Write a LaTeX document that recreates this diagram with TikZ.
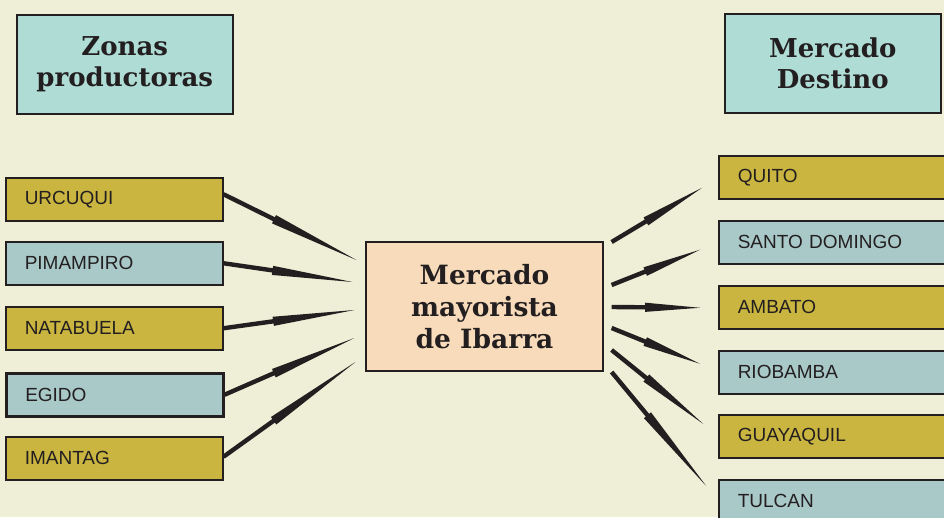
\documentclass[tikz,border=0pt]{standalone}
\usepackage{fontspec}
\setmainfont{DejaVu Serif}
\setsansfont{Liberation Sans}
\usetikzlibrary{calc}

\definecolor{fondo}{HTML}{EFEED6}
\definecolor{turquesa}{HTML}{AFDDD6}
\definecolor{oro}{HTML}{C9B540}
\definecolor{gris}{HTML}{A9C8C8}
\definecolor{durazno}{HTML}{F8DBBA}
\definecolor{tinta}{HTML}{231F20}

\tikzset{
  titulo/.style={draw=tinta, line width=1.5pt, fill=turquesa, minimum width=216pt,
    minimum height=99pt, anchor=north west, align=center, text=tinta,
    font=\bfseries\fontsize{26}{31}\selectfont},
  lugar/.style={draw=tinta, line width=1.5pt, minimum height=43pt, text width=179pt,
    inner xsep=19pt, anchor=north west, align=left, text=tinta,
    font=\sffamily\fontsize{19}{22}\selectfont},
  mayorista/.style={draw=tinta, line width=1.2pt, fill=durazno, minimum width=237pt,
    minimum height=129pt, align=center, text=tinta,
    font=\bfseries\fontsize{26.5}{32}\selectfont}
}

% spear-like arrow from #1 to #2
\newcommand\flecha[2]{%
  \coordinate (m) at ($(#1)!0.38!(#2)$);
  \fill[tinta] ($(#1)!2.2pt!90:(#2)$) -- ($(m)!2.2pt!90:(#2)$) -- ($(m)!4.6pt!90:(#2)$)
    -- (#2) -- ($(m)!4.6pt!-90:(#2)$) -- ($(m)!2.2pt!-90:(#2)$)
    -- ($(#1)!2.2pt!-90:(#2)$) -- cycle;}

\begin{document}
\begin{tikzpicture}[x=1pt, y=-1pt]
  \useasboundingbox (0,0) rectangle (944,517);
  \fill[fondo] (0,0) rectangle (944,517);

  % titles
  \node[titulo] (zonas) at (16,14) {Zonas\\productoras};
  \node[titulo] (destino) at (724,13) {Mercado\\Destino};

  % producing zones
  \node[lugar, fill=oro]  (urcuqui)   at (5,177) {URCUQUI};
  \node[lugar, fill=gris] (pimampiro) at (5,241) {PIMAMPIRO};
  \node[lugar, fill=oro]  (natabuela) at (5,306) {NATABUELA};
  \node[lugar, fill=gris, line width=2.5pt] (egido) at (5,372) {EGIDO};
  \node[lugar, fill=oro]  (imantag)   at (5,436) {IMANTAG};

  % wholesale market
  \node[mayorista] (mercado) at (484.5,306.5) {Mercado\\mayorista\\de Ibarra};

  % destinations
  \node[lugar, fill=oro, text width=212pt]  (quito)     at (718,155) {QUITO};
  \node[lugar, fill=gris, text width=212pt] (santo)     at (718,220) {SANTO DOMINGO};
  \node[lugar, fill=oro, text width=212pt]  (ambato)    at (718,285) {AMBATO};
  \node[lugar, fill=gris, text width=212pt] (riobamba)  at (718,350) {RIOBAMBA};
  \node[lugar, fill=oro, text width=212pt]  (guayaquil) at (718,414) {GUAYAQUIL};
  \node[lugar, fill=gris, text width=212pt] (tulcan)    at (718,479) {TULCAN};

  % arrows into the market
  \coordinate (u1) at ($(urcuqui.east)+(0,-5)$);
  \coordinate (u2) at ($(mercado.west)+(-9,-46.5)$);
  \coordinate (p1) at (pimampiro.east);
  \coordinate (p2) at ($(mercado.west)+(-13,-24.5)$);
  \coordinate (n1) at (natabuela.east);
  \coordinate (n2) at ($(mercado.west)+(-11,3.5)$);
  \coordinate (e1) at (egido.east);
  \coordinate (e2) at ($(mercado.west)+(-11,31.5)$);
  \coordinate (i1) at ($(imantag.east)+(0,-1.5)$);
  \coordinate (i2) at ($(mercado.west)+(-10,55.5)$);
  \flecha{u1}{u2}
  \flecha{p1}{p2}
  \flecha{n1}{n2}
  \flecha{e1}{e2}
  \flecha{i1}{i2}

  % arrows out of the market
  \coordinate (q1) at ($(mercado.east)+(8,-64.5)$);
  \coordinate (q2) at ($(quito.west)+(-16,10.5)$);
  \coordinate (s1) at ($(mercado.east)+(8,-21.5)$);
  \coordinate (s2) at ($(santo.west)+(-18,7.5)$);
  \coordinate (a1) at ($(mercado.east)+(8,0.5)$);
  \coordinate (a2) at ($(ambato.west)+(-18,0.5)$);
  \coordinate (r1) at ($(mercado.east)+(8,21.5)$);
  \coordinate (r2) at ($(riobamba.west)+(-18,-8.5)$);
  \coordinate (g1) at ($(mercado.east)+(8,43.5)$);
  \coordinate (g2) at ($(guayaquil.west)+(-15,-12.5)$);
  \coordinate (t1) at ($(mercado.east)+(8,65.5)$);
  \coordinate (t2) at ($(tulcan.west)+(-12,-15.5)$);
  \flecha{q1}{q2}
  \flecha{s1}{s2}
  \flecha{a1}{a2}
  \flecha{r1}{r2}
  \flecha{g1}{g2}
  \flecha{t1}{t2}
\end{tikzpicture}
\end{document}
